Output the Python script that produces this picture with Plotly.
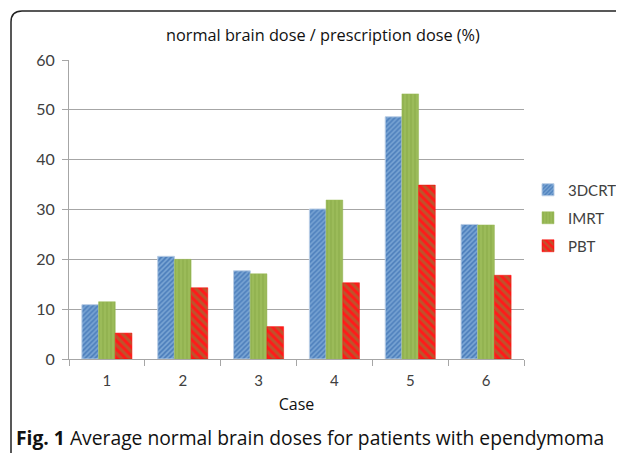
import plotly.graph_objects as go

cases = ["1", "2", "3", "4", "5", "6"]
dcrt = [10.9, 20.6, 17.7, 30.1, 48.6, 27.0]
imrt = [11.5, 20.0, 17.1, 31.9, 53.2, 26.9]
pbt = [5.2, 14.3, 6.5, 15.3, 34.9, 16.8]
y_ticks = [0, 10, 20, 30, 40, 50, 60]

W, H = 624, 453
OFF = 8  # page body margin: reference pixel = figure pixel + OFF
PL, PR, PT, PB = 69, 524, 60, 359  # plot area in reference pixels
L = PL - OFF
R = W - (PR - OFF)
T = PT - OFF
B = H - (PB - OFF)
pw, ph = W - L - R, H - T - B

def px(x):
    return (x - OFF - L) / pw

def py(y):
    return (H - B - (y - OFF)) / ph

fig = go.Figure()
fig.add_trace(go.Bar(
    name="3DCRT", x=cases, y=dcrt, legendgroup="a",
    marker=dict(color="#4f81bd", line=dict(color="#b9cde5", width=1),
                pattern=dict(shape="/", fgcolor="#a9cdee", bgcolor="#4f81bd",
                             size=3.5, solidity=0.45, fillmode="overlay")),
))
fig.add_trace(go.Bar(
    name="IMRT", x=cases, y=imrt, legendgroup="b",
    marker=dict(color="#9bbb59", line=dict(color="#9bbb59", width=0.5),
                pattern=dict(shape="|", fgcolor="#7f9f3f", bgcolor="#9bbb59",
                             size=4, solidity=0.3, fillmode="overlay")),
))
fig.add_trace(go.Bar(
    name="PBT", x=cases, y=pbt, legendgroup="c",
    marker=dict(color="#ff1a1a", line=dict(color="#ff0000", width=0.5),
                pattern=dict(shape="\\", fgcolor="#7d8c3c", bgcolor="#ff1a1a",
                             size=6, solidity=0.5, fillmode="overlay")),
))

# rounded frame
r = 11
x0, y0 = 11, 11
x1, y1 = W + 20, H + 20
path = (f"M {px(x0)} {py(y1)} L {px(x0)} {py(y0 + r)} "
        f"Q {px(x0)} {py(y0)} {px(x0 + r)} {py(y0)} "
        f"L {px(x1)} {py(y0)}")
fig.add_shape(type="path", path=path, xref="paper", yref="paper",
              line=dict(color="#222222", width=1.5), layer="above")

fig.add_annotation(text="normal brain dose / prescription dose (%)",
                   x=px(323), y=py(35), xref="paper", yref="paper",
                   showarrow=False, xanchor="center", yanchor="middle",
                   font=dict(size=16.3, color="#111111", family="Open Sans, Liberation Sans, sans-serif"))
fig.add_annotation(text="<b>Fig. 1</b> Average normal brain doses for patients with ependymoma",
                   x=px(14), y=py(437), xref="paper", yref="paper",
                   showarrow=False, xanchor="left", yanchor="middle",
                   font=dict(size=19.3, color="#111111", family="Open Sans, Liberation Sans, sans-serif"))

fig.update_layout(
    width=W, height=H,
    margin=dict(l=L, r=R, t=T, b=B, pad=0, autoexpand=False),
    paper_bgcolor="white", plot_bgcolor="white",
    barmode="group", bargap=0.34, bargroupgap=0,
    font=dict(family="Lato, Liberation Sans, sans-serif", size=14, color="#404040"),
    legend=dict(x=px(528), y=py(218), xref="paper", yref="paper",
                xanchor="left", yanchor="middle",
                font=dict(size=15, color="#404040"),
                tracegroupgap=5.5, itemwidth=30, traceorder="grouped",
                bgcolor="rgba(0,0,0,0)"),
    showlegend=True,
)
fig.update_xaxes(
    type="category", showgrid=False, showline=True, linecolor="#a6a6a6", linewidth=1,
    ticks="outside", tickson="boundaries", ticklen=6, tickcolor="#a6a6a6",
    ticklabelstandoff=8,
    title=dict(text="Case", font=dict(size=16, color="#111111",
                                      family="Open Sans, Liberation Sans, sans-serif"), standoff=10),
    tickfont=dict(size=15, color="#404040"),
)
fig.update_yaxes(
    range=[0, 60], tickvals=y_ticks, showgrid=True, gridcolor="#a6a6a6", gridwidth=1,
    showline=True, linecolor="#a6a6a6", linewidth=1,
    ticks="outside", ticklen=6, tickcolor="#a6a6a6", ticklabelstandoff=4,
    tickfont=dict(size=16, color="#404040"), zeroline=False,
)

fig.write_html("out.html")
